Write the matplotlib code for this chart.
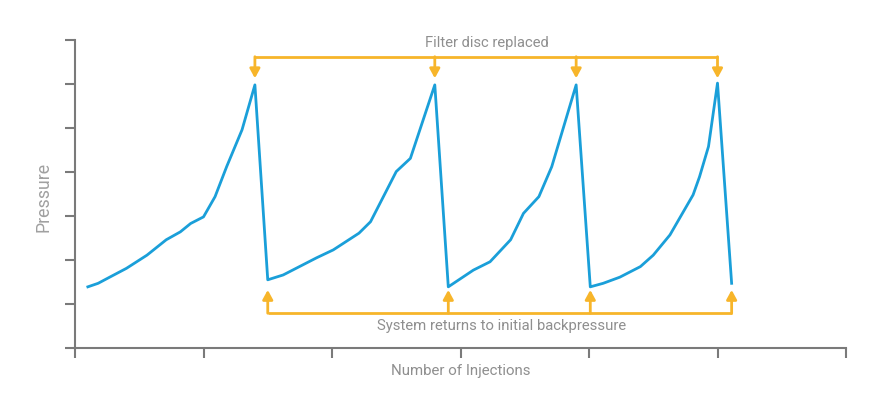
import matplotlib
matplotlib.use("Agg")
import matplotlib.pyplot as plt

# Data (x in injections, y in pressure units)
injections = [1.0, 1.8, 2.7, 4.0, 5.6, 7.1, 8.2, 9.0, 10.0, 10.9, 11.8, 13.0, 14.0,
              15.0, 16.2, 18.8, 20.1, 22.1, 23.0, 24.0, 25.0, 26.1, 28.0,
              29.05, 31.0, 32.3, 33.9, 34.9, 36.1, 37.1, 39.0,
              40.1, 41.1, 42.4, 44.0, 45.0, 46.3, 48.1, 48.6, 49.3, 50.0, 51.1]
pressure = [13.9, 14.7, 16.1, 18.1, 21.1, 24.6, 26.4, 28.3, 29.8, 34.4, 41.2, 49.6, 59.8,
            15.5, 16.6, 20.5, 22.3, 26.1, 28.7, 34.4, 40.1, 43.1, 59.8,
            13.9, 17.7, 19.6, 24.6, 30.6, 34.4, 41.2, 59.8,
            13.9, 14.7, 16.1, 18.5, 21.1, 25.7, 34.8, 38.9, 45.8, 60.2, 14.7]
replaced_x = [14.0, 28.0, 39.0, 50.0]
return_x = [15.0, 29.05, 40.1, 51.1]
x_ticks = [0, 10, 20, 30, 40, 50, 60]
y_ticks = [0, 10, 20, 30, 40, 50, 60, 70]
top_label = "Filter disc replaced"
bottom_label = "System returns to initial backpressure"
x_label = "Number of Injections"
y_label = "Pressure"

BLUE = "#1a9fd9"
ORANGE = "#f7b52a"
GRAY = "#7a7a7a"
TEXT = "#8f8f8f"

plt.rcParams['font.family'] = ['Roboto', 'DejaVu Sans']

fig = plt.figure(figsize=(8.92, 3.99), dpi=100)
ax = fig.add_axes([75/892, 1-348/399, (846-75)/892, (348-40)/399])
ax.set_xlim(0, 60)
ax.set_ylim(0, 70)

ax.plot(injections, pressure, color=BLUE, lw=2.0, solid_joinstyle='round', zorder=3)

for s in ['top', 'right']:
    ax.spines[s].set_visible(False)
for s in ['left', 'bottom']:
    ax.spines[s].set_color(GRAY)
    ax.spines[s].set_linewidth(1.5)
ax.set_xticks(x_ticks)
ax.set_yticks(y_ticks)
ax.tick_params(axis='both', direction='out', length=7, width=1.5, color=GRAY,
               labelleft=False, labelbottom=False)

# top bracket
top_y = 66.1
tip_top = 61.3
ax.plot([replaced_x[0], replaced_x[-1]], [top_y, top_y], color=ORANGE, lw=2, clip_on=False,
        solid_capstyle='butt')
for xv in replaced_x:
    ax.annotate("", xy=(xv, tip_top), xytext=(xv, top_y + 0.1),
                arrowprops=dict(arrowstyle="-|>,head_length=0.55,head_width=0.3",
                                color=ORANGE, lw=2, shrinkA=0, shrinkB=0),
                annotation_clip=False)

# bottom bracket
bot_y = 8.0
tip_bot = 13.2
ax.plot([return_x[0], return_x[-1]], [bot_y, bot_y], color=ORANGE, lw=2, clip_on=False,
        solid_capstyle='butt')
for xv in return_x:
    ax.annotate("", xy=(xv, tip_bot), xytext=(xv, bot_y - 0.1),
                arrowprops=dict(arrowstyle="-|>,head_length=0.55,head_width=0.3",
                                color=ORANGE, lw=2, shrinkA=0, shrinkB=0),
                annotation_clip=False)

ax.text(32.06, 69.4, top_label, ha='center', va='center', fontsize=10.6,
        color=TEXT, clip_on=False)
ax.text(33.2, 5.1, bottom_label, ha='center', va='center', fontsize=10.7,
        color=TEXT, clip_on=False)

fig.text(461/892, 1-371/399, x_label, ha='center', va='center', fontsize=10.8,
         color=TEXT)
fig.text(43/892, 1-197/399, y_label, ha='center', va='center', fontsize=12.8,
         color="#a0a0a0", rotation=90)

fig.savefig("out.png", dpi=100, facecolor='white')
